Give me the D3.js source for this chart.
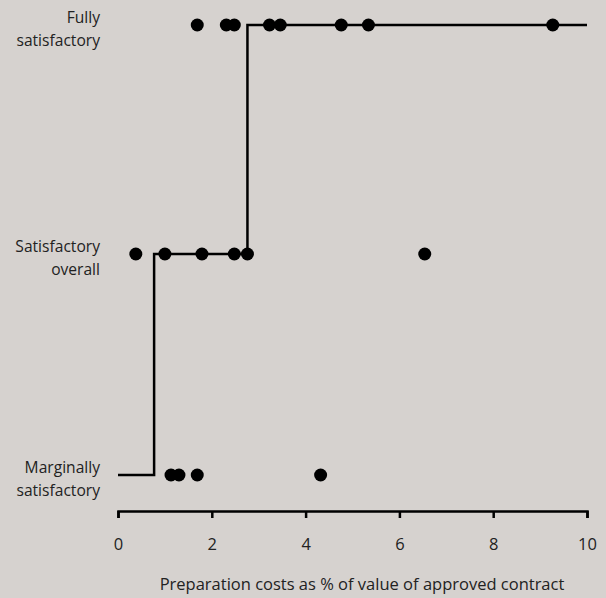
<!DOCTYPE html>
<html>
<head>
<meta charset="utf-8">
<script src="https://cdn.jsdelivr.net/npm/d3@7"></script>
<style>
  body { margin: 0; background: #d6d2cf; }
  svg { display: block; font-family: "Open Sans", sans-serif; }
</style>
</head>
<body>
<div id="chart"></div>
<script>
// ratings (top to bottom) and the costs of each project at that rating
const levels = ["Fully satisfactory", "Satisfactory overall", "Marginally satisfactory"];
const fullyCosts = [1.69, 2.31, 2.48, 3.23, 3.46, 4.76, 5.34, 9.27];
const satisfactoryCosts = [0.38, 1.0, 1.79, 2.48, 2.76, 6.54];
const marginalCosts = [1.13, 1.30, 1.69, 4.32];
// fitted step: cost where the rating steps up
const stepX = [0, 0.77, 2.76, 10];
const stepLevel = ["Marginally satisfactory", "Satisfactory overall", "Fully satisfactory", "Fully satisfactory"];
const xTicks = [0, 2, 4, 6, 8, 10];

const width = 606, height = 598;

let svg = d3.select("#chart")
    .append("svg")
    .attr("width", width)
    .attr("height", height);

let x = d3.scaleLinear()
    .domain([0, 10])
    .range([118, 587]);

// the rating rows are not evenly spaced in the original
let y = d3.scaleOrdinal()
    .domain(levels)
    .range([25, 254, 475]);

// x axis
let xAxis = svg.append("g")
    .attr("transform", "translate(0,511)")
    .call(d3.axisBottom(x).tickValues(xTicks).tickSize(7).tickPadding(20).tickFormat(d3.format("d")));
xAxis.select(".domain").attr("stroke", "#000").attr("stroke-width", 2.5);
xAxis.selectAll(".tick line").attr("stroke", "#000").attr("stroke-width", 2.5);
xAxis.selectAll(".tick text").attr("font-size", 16.5).attr("fill", "#222")
    .attr("font-family", "'Open Sans', sans-serif");

svg.append("text")
    .attr("x", 362)
    .attr("y", 590)
    .attr("text-anchor", "middle")
    .attr("font-size", 16.5)
    .attr("fill", "#222")
    .text("Preparation costs as % of value of approved contract");

// y labels, two lines each
const labelLines = {
    "Fully satisfactory": ["Fully", "satisfactory"],
    "Satisfactory overall": ["Satisfactory", "overall"],
    "Marginally satisfactory": ["Marginally", "satisfactory"]
};
levels.forEach(l => {
    let t = svg.append("text")
        .attr("text-anchor", "end")
        .attr("font-size", 15.6)
        .attr("fill", "#222");
    labelLines[l].forEach((s, i) => {
        t.append("tspan")
            .attr("x", 100)
            .attr("y", y(l) - 2 + i * 23)
            .text(s);
    });
});

// step line
let stepData = stepX.map((v, i) => ({ x: v, level: stepLevel[i] }));
svg.append("path")
    .datum(stepData)
    .attr("fill", "none")
    .attr("stroke", "#000")
    .attr("stroke-width", 2.5)
    .attr("d", d3.line().x(d => x(d.x)).y(d => y(d.level)).curve(d3.curveStepAfter));

// dots
let points = [];
fullyCosts.forEach(v => points.push({ x: v, level: levels[0] }));
satisfactoryCosts.forEach(v => points.push({ x: v, level: levels[1] }));
marginalCosts.forEach(v => points.push({ x: v, level: levels[2] }));

svg.selectAll(".dot")
    .data(points)
    .join("circle")
    .attr("class", "dot")
    .attr("cx", d => x(d.x))
    .attr("cy", d => y(d.level))
    .attr("r", 6.5)
    .attr("fill", "#000");
</script>
</body>
</html>
